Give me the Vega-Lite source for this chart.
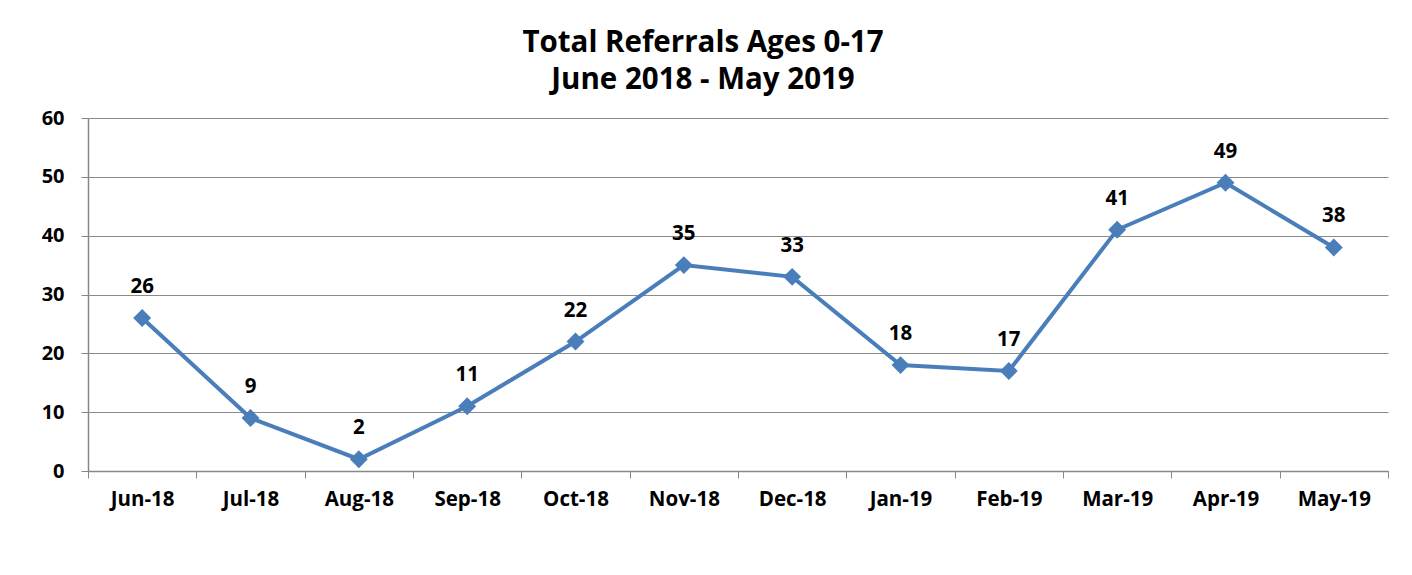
{
  "$schema": "https://vega.github.io/schema/vega-lite/v6.json",
  "autosize": {"type": "none"},
  "width": 1300,
  "height": 353,
  "padding": {"left": 88, "top": 118, "right": 24, "bottom": 104},
  "background": "white",
  "title": {
    "text": ["Total Referrals Ages 0-17", "June 2018 - May 2019"],
    "font": "Open Sans",
    "fontSize": 29.5,
    "fontWeight": "bold",
    "color": "#000000",
    "lineHeight": 37,
    "anchor": "middle",
    "dx": -35,
    "offset": 13
  },
  "data": {
    "values": [
      {"month": "Jun-18", "value": 26},
      {"month": "Jul-18", "value": 9},
      {"month": "Aug-18", "value": 2},
      {"month": "Sep-18", "value": 11},
      {"month": "Oct-18", "value": 22},
      {"month": "Nov-18", "value": 35},
      {"month": "Dec-18", "value": 33},
      {"month": "Jan-19", "value": 18},
      {"month": "Feb-19", "value": 17},
      {"month": "Mar-19", "value": 41},
      {"month": "Apr-19", "value": 49},
      {"month": "May-19", "value": 38}
    ]
  },
  "encoding": {
    "x": {
      "field": "month",
      "type": "ordinal",
      "sort": null,
      "scale": {"type": "band", "paddingInner": 0, "paddingOuter": 0},
      "axis": {
        "title": null,
        "labelAngle": 0,
        "tickBand": "extent",
        "labelFont": "Open Sans",
        "labelFontSize": 20.5,
        "labelFontWeight": "bold",
        "labelColor": "#000000",
        "labelPadding": 11,
        "domainColor": "#888888",
        "domainWidth": 1.5,
        "tickColor": "#888888",
        "tickSize": 7,
        "grid": false
      }
    },
    "y": {
      "field": "value",
      "type": "quantitative",
      "scale": {"domain": [0, 60]},
      "axis": {
        "title": null,
        "values": [0, 10, 20, 30, 40, 50, 60],
        "labelFont": "Open Sans",
        "labelFontSize": 20,
        "labelFontWeight": "bold",
        "labelColor": "#000000",
        "labelPadding": 17,
        "domainColor": "#888888",
        "domainWidth": 1.5,
        "tickColor": "#888888",
        "tickSize": 7,
        "grid": true,
        "gridColor": "#8a8a8a",
        "gridWidth": 1
      }
    }
  },
  "layer": [
    {
      "mark": {"type": "line", "color": "#4a7ebb", "strokeWidth": 4}
    },
    {
      "mark": {"type": "point", "shape": "diamond", "filled": true, "color": "#4a7ebb", "size": 320, "opacity": 1}
    },
    {
      "mark": {"type": "text", "dy": -31, "font": "Open Sans", "fontSize": 20.5, "fontWeight": "bold", "color": "#000000"},
      "encoding": {"text": {"field": "value", "type": "quantitative"}}
    }
  ],
  "config": {
    "view": {"stroke": null}
  }
}
